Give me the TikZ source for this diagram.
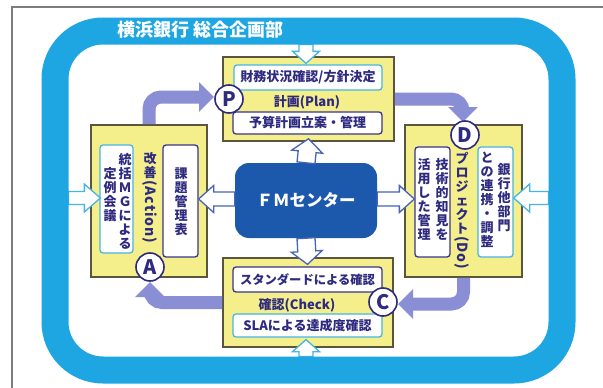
\documentclass[tikz,border=0pt]{standalone}
\usepackage{fontspec}
\usepackage{graphicx}
\newfontfamily\jp{Noto Sans CJK JP}
\usetikzlibrary{calc,arrows.meta}
\definecolor{ringc}{RGB}{30,166,226}
\definecolor{yfill}{RGB}{244,239,138}
\definecolor{ybord}{RGB}{90,85,60}
\definecolor{navy}{RGB}{46,42,128}
\definecolor{cyanb}{RGB}{70,180,228}
\definecolor{navyb}{RGB}{58,52,140}
\definecolor{fmc}{RGB}{28,88,172}
\definecolor{cycc}{RGB}{138,142,212}
\definecolor{fmarrc}{RGB}{70,100,185}
\definecolor{framec}{RGB}{125,125,125}
\newcommand\rotlat[1]{\rotatebox{-90}{\fontsize{14}{14}\selectfont\addfontfeature{LetterSpace=6}#1}}
% #1 style, #2 tail, #3 tip, #4 stem half width, #5 head half width, #6 head length
\newcommand\hollowarrow[6]{%
  \coordinate (hb) at ($(#3)!#6!(#2)$);
  \draw[#1] ($(#2)!#4!90:(#3)$) -- ($(hb)!#4!-90:(#2)$) -- ($(hb)!#5!-90:(#2)$) -- (#3)
    -- ($(hb)!#5!90:(#2)$) -- ($(hb)!#4!90:(#2)$) -- ($(#2)!#4!-90:(#3)$) -- cycle;}
\begin{document}
\begin{tikzpicture}[x=1pt,y=-1pt,
  ybox/.style={draw=ybord,fill=yfill,line width=1.6pt,inner sep=0pt,rectangle},
  sbc/.style={draw=cyanb,fill=white,line width=1.3pt,rounded corners=3pt,inner sep=0pt},
  sbn/.style={draw=navyb,fill=white,line width=1.3pt,rounded corners=3pt,inner sep=0pt},
  lab/.style={text=navy,font=\jp\bfseries\fontsize{13}{14}\selectfont,inner sep=0pt},
  vlab/.style={lab,align=center},
  circ/.style={circle,draw=navy,fill=white,line width=1.6pt,minimum size=28pt,inner sep=0pt,text=navy,font=\jp\bfseries\fontsize{20}{20}\selectfont},
  cyc/.style={draw=cycc,line width=13pt,rounded corners=12pt,-{Triangle[width=29pt,length=15pt]}},
  fmarr/.style={draw=fmarrc,fill=white,line width=1.3pt},
  rarr/.style={draw=cyanb,fill=white,line width=1.3pt},
]
\useasboundingbox (0,0) rectangle (603,388);
\fill[white] (0,0) rectangle (603,388);
% frame
\draw[framec,line width=1.3pt] (12,388) -- (12,7) -- (603,7);

% yellow boxes
\node[ybox,minimum width=171pt,minimum height=84pt] (plan) at (308.5,99) {};
\node[ybox,minimum width=116pt,minimum height=152pt] (act) at (149,201) {};
\node[ybox,minimum width=117pt,minimum height=152pt] (dob) at (463.5,201) {};
\node[ybox,minimum width=170pt,minimum height=89pt] (chk) at (308,302.5) {};

% plan
\node[sbc,lab,minimum width=148pt,minimum height=25pt] (p1) at (308,77.5) {財務状況確認/方針決定};
\node[lab] (p2) at (307,102) {計画(Plan)};
\node[sbn,lab,minimum width=149pt,minimum height=22pt] (p3) at (307.5,123) {予算計画立案・管理};
% check
\node[sbn,lab,font=\jp\bfseries\fontsize{12.3}{14}\selectfont,minimum width=149pt,minimum height=25pt] (c1) at (307.5,279.5) {スタンダードによる確認};
\node[lab] (c2) at (297,305) {確認(Check)};
\node[sbc,lab,minimum width=149pt,minimum height=23pt] (c3) at (307.5,325.5) {SLAによる達成度確認};
% action
\node[sbc,minimum width=33pt,minimum height=108pt] (a1) at (116.5,199) {};
\node[vlab] (a1r) at (125,201) {統\\括\\Ｍ\\Ｇ\\に\\よ\\る};
\node[vlab] (a1l) at (110,195) {定\\例\\会\\議};
\node[vlab,anchor=north] (a2) at (150,152) {改\\善\\[-11pt]\rotlat{(Action)}};
\node[sbn,minimum width=35pt,minimum height=112pt] (a3) at (180.5,201) {};
\node[vlab] (a3t) at (181,202) {課\\題\\管\\理\\表};
% do
\node[sbn,minimum width=35pt,minimum height=110pt] (d1) at (432.5,202) {};
\node[vlab] (d1r) at (442,199) {技\\術\\的\\知\\見\\を};
\node[vlab] (d1l) at (424,199) {活\\用\\し\\た\\管\\理};
\node[vlab,anchor=north] (d2) at (462,152) {プ\\ロ\\ジ\\ェ\\ク\\ト\\[-11pt]\rotlat{(Do)}};
\node[sbc,minimum width=35pt,minimum height=110pt] (d3) at (495.5,202) {};
\node[vlab] (d3r) at (504,198) {銀\\行\\他\\部\\門};
\node[vlab] (d3l) at (487,200) {と\\の\\連\\携\\・\\調\\整};

% FM center
\node[fill=fmc,rounded corners=14pt,minimum width=142pt,minimum height=75pt,text=white,font=\jp\bfseries\fontsize{16.5}{17}\selectfont,inner sep=0pt] (fm) at (306,200.5) {ＦＭセンター};
\coordinate (tU) at ($(plan.south)+(0,-3)$);
\coordinate (tD) at ($(c1.north)+(0,-2)$);
\coordinate (tL) at ($(a3.east)+(0,-2)$);
\coordinate (tR) at ($(d1.west)+(0,-3)$);
\coordinate (fU) at (fm.north);
\coordinate (fD) at (fm.south);
\coordinate (fL) at ($(fm.west)+(0,-1.5)$);
\coordinate (fR) at ($(fm.east)+(0,-1.5)$);
\hollowarrow{fmarr}{fU}{tU}{9pt}{15.5pt}{13pt}
\hollowarrow{fmarr}{fD}{tD}{9pt}{15.5pt}{13pt}
\hollowarrow{fmarr}{fL}{tL}{7pt}{13.5pt}{15pt}
\hollowarrow{fmarr}{fR}{tR}{7pt}{13.5pt}{15pt}

% cycle arrows
\coordinate (Ptip) at (214,97);
\coordinate (Dtip) at (463,122);
\coordinate (Ctip) at (398,304);
\coordinate (Atip) at (150,282);
\draw[cyc] (act.north) |- (Ptip);
\draw[cyc] (plan.east) -| (Dtip);
\draw[cyc] (dob.south) |- (Ctip);
\draw[cyc] (chk.west) -| (Atip);

% circles
\node[circ] (Pc) at (229,99) {P};
\node[circ] (Dc) at (465,135) {D};
\node[circ] (Cc) at (383,302) {C};
\node[circ] (Ac) at (150,267) {A};

% ring arrows
\coordinate (rT) at (306,44.5);
\coordinate (rTt) at ($(p1.north)+(-2,-1)$);
\coordinate (rB) at (306,356.5);
\coordinate (rBt) at ($(c3.south)+(-1.5,2)$);
\coordinate (rL) at (68.5,198);
\coordinate (rLt) at ($(a1.west)+(1,-1)$);
\coordinate (rR) at (548.5,198);
\coordinate (rRt) at ($(d3.east)+(0,-4)$);
\hollowarrow{rarr}{rT}{rTt}{7pt}{13.5pt}{12pt}
\hollowarrow{rarr}{rB}{rBt}{7pt}{13.5pt}{12pt}
\hollowarrow{rarr}{rL}{rLt}{6.5pt}{14pt}{16pt}
\hollowarrow{rarr}{rR}{rRt}{6.5pt}{14pt}{16pt}

% ring
\draw[ringc,line width=27pt,rounded corners=48pt] (55,31) rectangle (562,370);
\node[anchor=west,text=white,font=\jp\bfseries\fontsize{18}{18}\selectfont,inner sep=0pt] (title) at (117,30) {横浜銀行 総合企画部};
\end{tikzpicture}
\end{document}
